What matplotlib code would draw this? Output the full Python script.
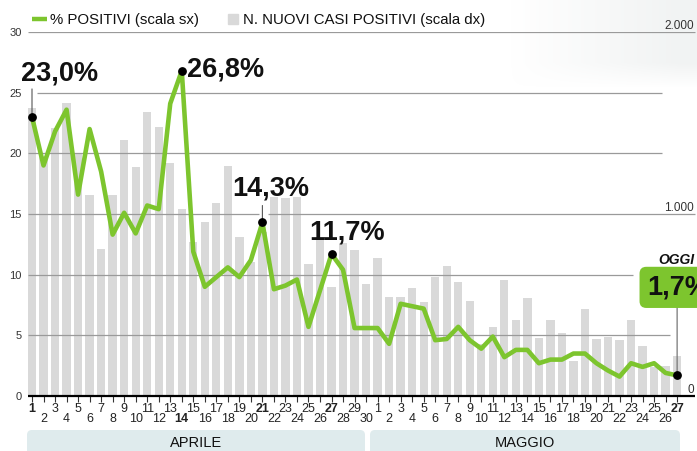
import numpy as np
import matplotlib.pyplot as plt
from matplotlib.patches import FancyBboxPatch, Rectangle

plt.rcParams['font.family'] = ['Liberation Sans', 'DejaVu Sans']

# dati: aprile 1-30, maggio 1-27
days_apr = list(range(1, 31))
days_mag = list(range(1, 28))
day_labels = [str(d) for d in days_apr + days_mag]

# % positivi sui tamponi (scala sx)
perc_positivi = [23.0, 19.0, 21.8, 23.6, 16.6, 22.0, 18.5, 13.3, 15.1, 13.4,
                 15.7, 15.4, 24.1, 26.8, 11.9, 9.0, 9.8, 10.6, 9.8, 11.2,
                 14.3, 8.8, 9.1, 9.6, 5.7, 8.7, 11.7, 10.4, 5.6, 5.6,
                 5.6, 4.3, 7.6, 7.4, 7.2, 4.6, 4.7, 5.7, 4.6, 3.9,
                 4.9, 3.2, 3.8, 3.8, 2.7, 3.0, 3.0, 3.5, 3.5, 2.7,
                 2.1, 1.6, 2.7, 2.4, 2.7, 1.9, 1.7]

# nuovi casi positivi (scala dx)
nuovi_casi = [1580, 1320, 1470, 1610, 1330, 1105, 805, 1105, 1405, 1260,
              1560, 1480, 1280, 1025, 845, 955, 1060, 1265, 875, 735,
              900, 1095, 1090, 1095, 725, 875, 600, 840, 800, 615,
              760, 545, 545, 595, 515, 655, 715, 625, 520, 285,
              380, 635, 415, 540, 320, 420, 345, 195, 480, 315,
              325, 305, 415, 275, 160, 165, 220]

highlight_idx = [0, 13, 20, 26, 56]
highlight_txt = ['23,0%', '26,8%', '14,3%', '11,7%', '1,7%']
bold_ticks = [0, 13, 20, 26, 56]

left_ticks = [0, 5, 10, 15, 20, 25, 30]
right_ticks = [0, 1000, 2000]
right_labels = ['0', '1.000', '2.000']

GREEN = '#7dc52e'
GREY_BAR = '#d9d9d9'
GRID = '#9a9a9a'

W, H = 697, 451
fig = plt.figure(figsize=(W / 100, H / 100), dpi=100)

# livello di sfondo in pixel
bg = fig.add_axes([0, 0, 1, 1], zorder=0)
bg.axis('off')

# sfumatura grigia in alto a destra
gx = np.clip((np.linspace(397, 697, 300) - 510) / 170, 0, 1)
gy = np.clip((88 - np.linspace(0, 95, 95)) / 25, 0, 1)
alpha = np.outer(gy, gx) * 0.6
grad = np.zeros((95, 300, 4))
grad[..., 0] = 0.91
grad[..., 1] = 0.925
grad[..., 2] = 0.925
grad[..., 3] = alpha
bg.imshow(grad, extent=(397, 697, 95, 0), aspect='auto', zorder=0)
bg.set_xlim(0, W)
bg.set_ylim(H, 0)

# legenda
bg.plot([32, 47], [19, 19], color=GREEN, lw=3.2, solid_capstyle='butt')
bg.text(50, 20, '% POSITIVI (scala sx)', va='center', fontsize=10.8, color='#111')
bg.add_patch(Rectangle((228, 13.5), 10, 10.5, color=GREY_BAR))
bg.text(243, 20, 'N. NUOVI CASI POSITIVI (scala dx)', va='center', fontsize=10.8, color='#111')

# bande dei mesi
bg.add_patch(FancyBboxPatch((27, 430), 338, 30, boxstyle='round,pad=0,rounding_size=5',
                            fc='#dfebed', ec='none'))
bg.add_patch(FancyBboxPatch((370, 430), 310, 30, boxstyle='round,pad=0,rounding_size=5',
                            fc='#dfebed', ec='none'))
bg.text(196, 443, 'APRILE', ha='center', va='center', fontsize=10.5, color='#111')
bg.text(525, 443, 'MAGGIO', ha='center', va='center', fontsize=10.5, color='#111')

# assi principali
ax = fig.add_axes([26 / W, (H - 396) / H, (697 - 26) / W, (396 - 32) / H])
ax2 = ax.twinx()
ax2.set_zorder(1)
ax.set_zorder(2)
ax.patch.set_visible(False)
ax2.patch.set_visible(False)

x = np.arange(len(perc_positivi))
ax.set_xlim((26 - 32) / 11.52, (697 - 32) / 11.52)
ax.set_ylim(0, 30)
ax2.set_ylim(0, 2000)

ax2.bar(x, nuovi_casi, width=0.72, color=GREY_BAR)

# griglia
grid_rows = [(30, -0.35, 57.55), (25, 0.43, 54.7), (20, -0.35, 54.7),
             (15, -0.35, 19.7), (15, 20.5, 57.55), (10, -0.35, 52.2), (5, -0.35, 55.4)]
for gyv, x0, x1 in grid_rows:
    ax.hlines(gyv, x0, x1, color=GRID, lw=0.9, zorder=1)
ax.hlines(0, -0.35, 57.55, color='black', lw=1.6, clip_on=False, zorder=4)

ax.plot(x, perc_positivi, color=GREEN, lw=3.3, solid_joinstyle='round', zorder=3)

hv = [perc_positivi[i] for i in highlight_idx]
ax.scatter(highlight_idx, hv, s=28, color='black', zorder=6, clip_on=False)

# etichette dei punti salienti
offsets = [(28, 43, 'center'), (5, 1, 'left'), (8, 34, 'center'), (16, 22, 'center')]
for (i, t), (dx, dy, ha) in zip(zip(highlight_idx[:4], highlight_txt[:4]), offsets):
    ax.annotate(t, xy=(i, perc_positivi[i]), xytext=(dx, dy), textcoords='offset pixels',
                ha=ha, va='center', fontsize=19.5, fontweight='bold', color='#111',
                annotation_clip=False, zorder=7)
leaders = [(0, 28), (20, 17)]
for i, L in leaders:
    ax.annotate('', xy=(i, perc_positivi[i]), xytext=(0, L), textcoords='offset pixels',
                arrowprops=dict(arrowstyle='-', color='#555', lw=0.8, shrinkA=0, shrinkB=0))

# OGGI
i_last = highlight_idx[-1]
ax.annotate('', xy=(i_last, perc_positivi[i_last]), xytext=(0, 72), textcoords='offset pixels',
            arrowprops=dict(arrowstyle='-', color='#777', lw=0.9, shrinkA=0, shrinkB=0))
ax.annotate('OGGI', xy=(i_last, perc_positivi[i_last]), xytext=(-19, 115),
            textcoords='offset pixels', ha='left', va='center', fontsize=10,
            fontweight='bold', fontstyle='italic', color='#111', annotation_clip=False)
ax.annotate(highlight_txt[-1], xy=(i_last, perc_positivi[i_last]), xytext=(-30, 88),
            textcoords='offset pixels', ha='left', va='center', fontsize=19.5,
            fontweight='bold', color='#111', annotation_clip=False,
            bbox=dict(boxstyle='round,pad=0.28,rounding_size=0.25', fc=GREEN, ec='none'))

# tick asse x su due righe
ax.set_xticks(x[::2], [day_labels[i] for i in x[::2]])
ax.set_xticks(x[1::2], [day_labels[i] for i in x[1::2]], minor=True)
ax.tick_params(axis='x', which='both', length=4.5, width=0.8, color='#333',
               labelsize=9, labelcolor='#222')
ax.tick_params(axis='x', which='major', pad=0.8)
ax.tick_params(axis='x', which='minor', pad=8)
major_labels = ax.get_xticklabels()
minor_labels = ax.get_xticklabels(minor=True)
for i in bold_ticks:
    lab = major_labels[i // 2] if i % 2 == 0 else minor_labels[i // 2]
    lab.set_fontweight('bold')

ax.set_yticks(left_ticks, [str(v) for v in left_ticks])
ax.tick_params(axis='y', length=0, pad=3, labelsize=8, labelcolor='#333')

ax2.set_yticks([])
for r, lab in zip(right_ticks, right_labels):
    ax2.text(57.45, r, lab, ha='right', va='bottom', fontsize=8.5, color='#333')

for a in (ax, ax2):
    for s in a.spines.values():
        s.set_visible(False)

fig.savefig('out.png', dpi=100)
